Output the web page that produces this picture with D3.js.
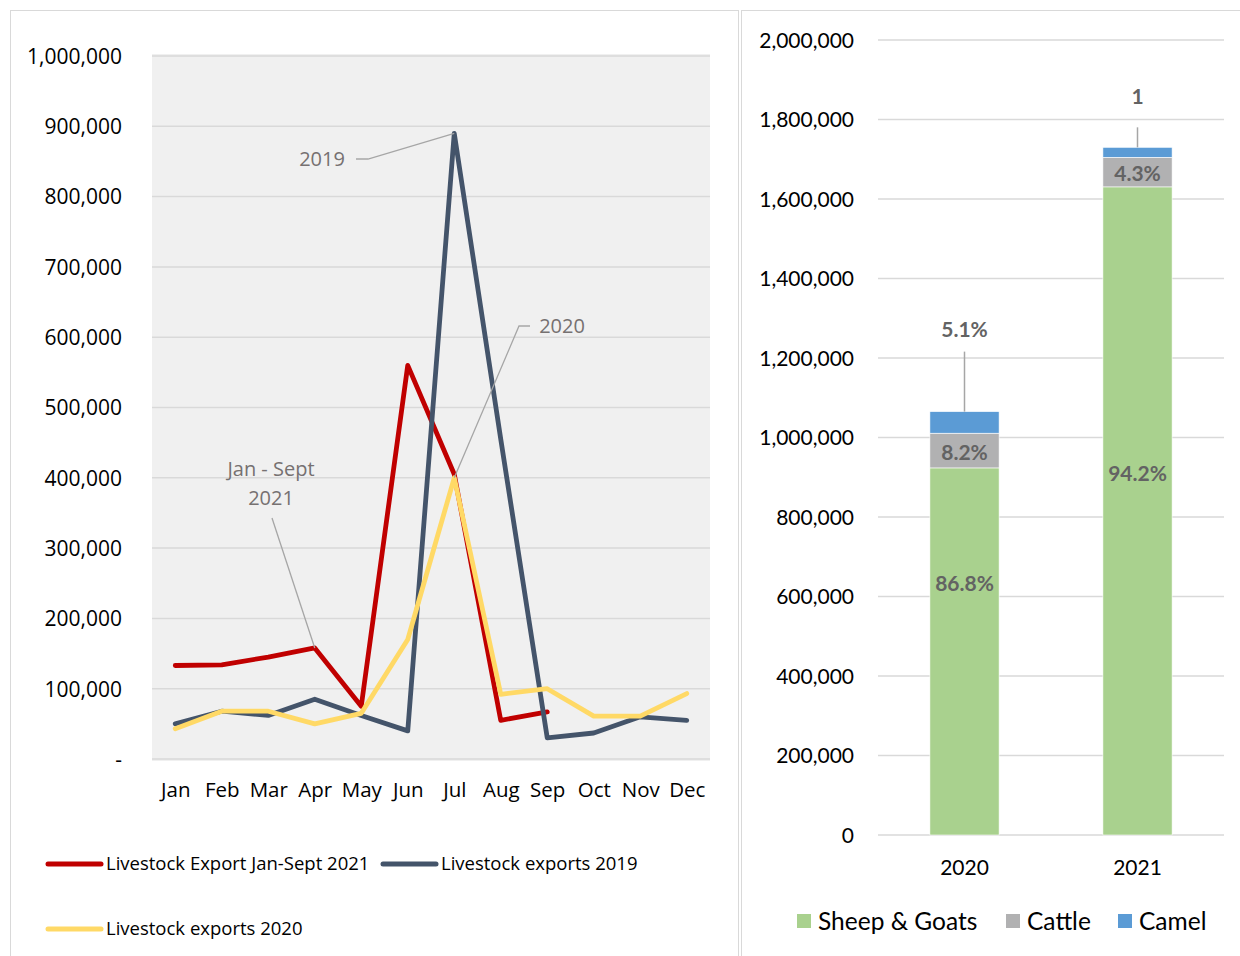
<!DOCTYPE html>
<html>
<head>
<meta charset="utf-8">
<script src="https://cdn.jsdelivr.net/npm/d3@7"></script>
<style>
body{margin:0;background:#fff;}
svg{display:block;}
</style>
</head>
<body>
<script>
// monthly exports (left chart)
const months = ["Jan","Feb","Mar","Apr","May","Jun","Jul","Aug","Sep","Oct","Nov","Dec"];
const exp2021 = [133000,134000,145000,158000,75000,560000,405000,55000,67000];
const exp2019 = [50000,68000,62000,85000,62000,40000,890000,455000,30000,37000,60000,55000];
const exp2020 = [43000,68000,68000,50000,65000,170000,400000,92000,100000,61000,61000,93000];
const lineNames = ["Livestock Export Jan-Sept 2021","Livestock exports 2019","Livestock exports 2020"];
const lineColors = ["#c00000","#44546a","#ffd966"];

// stacked totals by type (right chart)
const years = ["2020","2021"];
const types = ["Sheep & Goats","Cattle","Camel"];
const sheepGoats = [923500,1630500];
const cattle = [87300,74400];
const camel = [54300,25100];
const sheepLabels = ["86.8%","94.2%"];
const cattleLabels = ["8.2%","4.3%"];
const camelLabels = ["5.1%","1"];
const typeColors = ["#a9d18e","#b1b1b2","#5b9bd5"];

const width = 1240, height = 956;
const svg = d3.select("body").append("svg").attr("width",width).attr("height",height);

// panel frames
svg.append("rect").attr("x",10.5).attr("y",10.5).attr("width",728).attr("height",960)
  .attr("fill","none").attr("stroke","#d9d9d9");
svg.append("rect").attr("x",741.5).attr("y",10.5).attr("width",520).attr("height",960)
  .attr("fill","none").attr("stroke","#d9d9d9");

// ---------- left: line chart ----------
let L = {left:152,right:710,top:56,bottom:759};
let x = d3.scalePoint().domain(months).range([L.left,L.right]).padding(0.5);
let y = d3.scaleLinear().domain([0,1000000]).range([L.bottom,L.top]);

let lg = svg.append("g");
lg.append("rect").attr("x",L.left).attr("y",L.top-2).attr("width",L.right-L.left).attr("height",L.bottom-L.top+4)
  .attr("fill","#f0f0f0");
lg.append("g").selectAll("line").data(y.ticks(10)).join("line")
  .attr("x1",L.left).attr("x2",L.right).attr("y1",d=>y(d)).attr("y2",d=>y(d))
  .attr("stroke","#d9d9d9").attr("stroke-width",1.5);

let yAxisL = lg.append("g").attr("transform",`translate(${L.left-27},0)`)
  .call(d3.axisLeft(y).ticks(10).tickSize(0).tickFormat(d=>d===0?"-":d3.format(",")(d)));
yAxisL.select(".domain").remove();
yAxisL.selectAll("text").attr("font-family","Open Sans").attr("font-size",21).attr("fill","#000").attr("dy","0.35em");

let xAxisL = lg.append("g").attr("transform",`translate(0,${L.bottom+28})`)
  .call(d3.axisBottom(x).tickSize(0));
xAxisL.select(".domain").remove();
xAxisL.selectAll("text").attr("font-family","Open Sans").attr("font-size",20.5).attr("fill","#000").attr("dy","0.35em");

let line = d3.line().x((d,i)=>x(months[i])).y(d=>y(d));
[exp2021,exp2019,exp2020].forEach((s,k)=>{
  lg.append("path").datum(s).attr("d",line).attr("fill","none")
    .attr("stroke",lineColors[k]).attr("stroke-width",4.8)
    .attr("stroke-linejoin","round").attr("stroke-linecap","round");
});

// callouts
const annoColor = "#767171";
function callout(txt, lx, ly, pts, anchor){
  lg.append("polyline").attr("points",pts.map(p=>p.join(",")).join(" "))
    .attr("fill","none").attr("stroke","#a6a6a6").attr("stroke-width",1.3);
  let t = lg.append("text").attr("x",lx).attr("y",ly).attr("text-anchor",anchor)
    .attr("font-family","Open Sans").attr("font-size",20).attr("fill",annoColor);
  txt.forEach((s,i)=>t.append("tspan").attr("x",lx).attr("dy",i?29:0).text(s));
}
callout(["2019"],322,166,[[356,159],[368,159],[x("Jul"),y(exp2019[6])]],"middle");
callout(["2020"],562,333,[[530,326],[519,326],[x("Jul"),y(exp2020[6])]],"middle");
callout(["Jan - Sept","2021"],271,476,[[272,518],[x("Apr"),y(exp2021[3])]],"middle");

// legend
let legPos = [[48,864],[383,864],[48,929]];
lineNames.forEach((n,i)=>{
  let g = svg.append("g").attr("transform",`translate(${legPos[i][0]},${legPos[i][1]})`);
  g.append("line").attr("x1",0).attr("x2",53).attr("stroke",lineColors[i]).attr("stroke-width",5).attr("stroke-linecap","round");
  g.append("text").attr("x",58).attr("dy","0.35em").attr("font-family","Open Sans")
    .attr("font-size",18.5).attr("fill","#000").text(n);
});

// ---------- right: stacked bars ----------
let R = {left:878,right:1224,top:40,bottom:835};
let xb = d3.scaleBand().domain(years).range([R.left,R.right]).paddingInner(0.6).paddingOuter(0.3);
let yb = d3.scaleLinear().domain([0,2000000]).range([R.bottom,R.top]);

let rg = svg.append("g");
rg.append("g").selectAll("line").data(yb.ticks(10)).join("line")
  .attr("x1",R.left).attr("x2",R.right).attr("y1",d=>yb(d)).attr("y2",d=>yb(d))
  .attr("stroke","#d9d9d9").attr("stroke-width",1.5);

let yAxisR = rg.append("g").attr("transform",`translate(${R.left-21},0)`)
  .call(d3.axisLeft(yb).ticks(10).tickSize(0).tickFormat(d3.format(",")));
yAxisR.select(".domain").remove();
yAxisR.selectAll("text").attr("font-family","Lato").attr("font-size",21).attr("fill","#000").attr("dy","0.35em");

let xAxisR = rg.append("g").attr("transform",`translate(0,${R.bottom+30})`)
  .call(d3.axisBottom(xb).tickSize(0));
xAxisR.select(".domain").remove();
xAxisR.selectAll("text").attr("font-family","Lato").attr("font-size",21).attr("fill","#000").attr("dy","0.35em");

let table = years.map((yr,i)=>({year:yr,"Sheep & Goats":sheepGoats[i],"Cattle":cattle[i],"Camel":camel[i]}));
let stack = d3.stack().keys(types)(table);
let labelSets = [sheepLabels,cattleLabels,camelLabels];

stack.forEach((layer,k)=>{
  rg.append("g").selectAll("rect").data(layer).join("rect")
    .attr("x",d=>xb(d.data.year)).attr("width",xb.bandwidth())
    .attr("y",d=>yb(d[1])).attr("height",d=>yb(d[0])-yb(d[1]))
    .attr("fill",typeColors[k]).attr("stroke","#fff").attr("stroke-width",0.6);
});

function barLabel(txt,cx,cy){
  rg.append("text").attr("x",cx).attr("y",cy).attr("dy","0.35em").attr("text-anchor","middle")
    .attr("font-family","Lato").attr("font-weight","bold").attr("font-size",21).attr("fill","#636363").text(txt);
}
// where the labels were dragged to in the original (fraction down the segment)
const sheepLabelFrac = [0.315,0.442];
stack.forEach((layer,k)=>{
  layer.forEach((d,i)=>{
    let cx = xb(d.data.year)+xb.bandwidth()/2;
    if(k===0){
      let cy = yb(d[1])+(yb(d[0])-yb(d[1]))*sheepLabelFrac[i];
      barLabel(labelSets[k][i],cx,cy);
    } else if(k===1){
      barLabel(labelSets[k][i],cx,(yb(d[0])+yb(d[1]))/2+2);
    } else {
      let top = yb(d[1]);
      let lift = i===0 ? 82 : 51;
      rg.append("line").attr("x1",cx).attr("x2",cx).attr("y1",top).attr("y2",top-(i===0?60:20))
        .attr("stroke","#a6a6a6").attr("stroke-width",1.5);
      barLabel(labelSets[k][i],cx,top-lift);
    }
  });
});

// legend right
let legX = [797,1006,1118];
types.forEach((t,i)=>{
  let g = svg.append("g").attr("transform",`translate(${legX[i]},921)`);
  g.append("rect").attr("x",0).attr("y",-7).attr("width",14).attr("height",14).attr("fill",typeColors[i]);
  g.append("text").attr("x",21).attr("dy","0.35em").attr("font-family","Lato").attr("font-size",24.5)
    .attr("fill","#000").text(t);
});
</script>
</body>
</html>
